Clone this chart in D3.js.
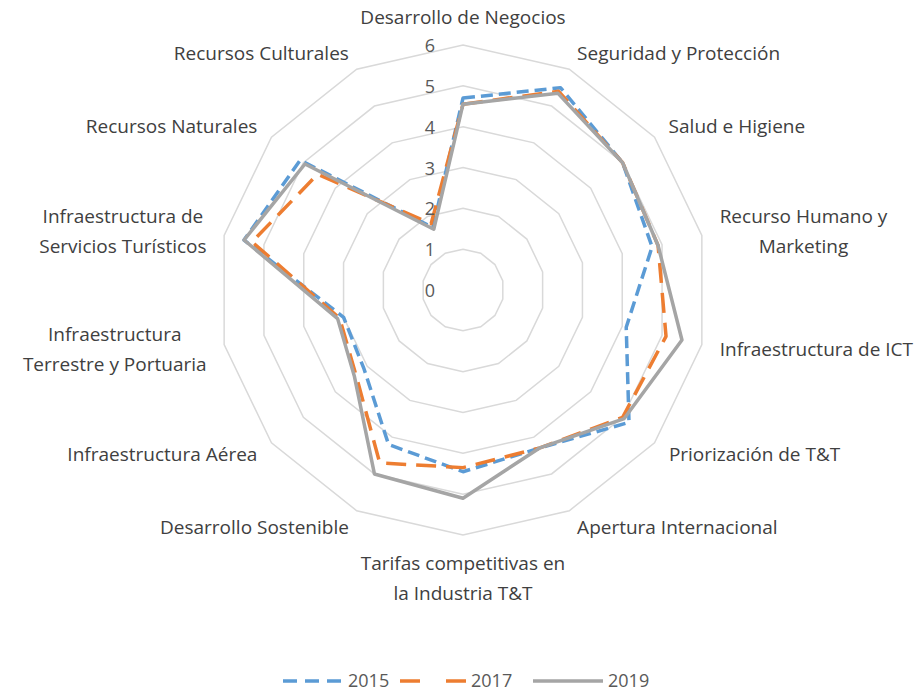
<!DOCTYPE html>
<html>
<head>
<meta charset="utf-8">
<script src="https://cdn.jsdelivr.net/npm/d3@7"></script>
<style>
  body { margin: 0; background: #fff; }
  text { font-family: "Open Sans", Lato, sans-serif; }
</style>
</head>
<body>
<svg id="chart" width="919" height="695"></svg>
<script>
// categories, clockwise from the top
const categories = [
  ['Desarrollo de Negocios'],
  ['Seguridad y Protección'],
  ['Salud e Higiene'],
  ['Recurso Humano y', 'Marketing'],
  ['Infraestructura de ICT'],
  ['Priorización de T&T'],
  ['Apertura Internacional'],
  ['Tarifas competitivas en', 'la Industria T&T'],
  ['Desarrollo Sostenible'],
  ['Infraestructura Aérea'],
  ['Infraestructura', 'Terrestre y Portuaria'],
  ['Infraestructura de', 'Servicios Turísticos'],
  ['Recursos Naturales'],
  ['Recursos Culturales']
];

const years = ['2015', '2017', '2019'];
const values2015 = [4.7, 5.5, 5.0, 4.75, 4.1, 5.2, 4.3, 4.45, 4.2, 3.1, 3.0, 5.5, 5.1, 1.7];
const values2017 = [4.55, 5.4, 5.0, 4.9, 5.1, 5.0, 4.3, 4.35, 4.7, 3.35, 3.1, 5.3, 4.55, 1.8];
const values2019 = [4.55, 5.35, 5.0, 4.9, 5.5, 5.05, 4.3, 5.1, 5.0, 3.4, 3.15, 5.5, 4.95, 1.65];
const ticks = [0, 1, 2, 3, 4, 5, 6];

const series = [
  { name: years[0], values: values2015, color: '#5b9bd5', dash: '12,6', legendDash: '14,8' },
  { name: years[1], values: values2017, color: '#ed7d31', dash: '20,10', legendDash: '20,26' },
  { name: years[2], values: values2019, color: '#a5a5a5', dash: null, legendDash: null }
];

const cx = 463, cy = 290, R = 245;
const svg = d3.select('#chart');
const g = svg.append('g').attr('transform', `translate(${cx},${cy})`);

const r = d3.scaleLinear().domain([0, 6]).range([0, R]);
const angle = d3.scaleLinear().domain([0, categories.length]).range([0, 2 * Math.PI]);

const radial = d3.lineRadial()
  .angle((d, i) => angle(i))
  .radius(d => r(d))
  .curve(d3.curveLinearClosed);

// grid rings
g.selectAll('.ring')
  .data(ticks.slice(1))
  .enter()
  .append('path')
  .attr('d', t => radial(categories.map(() => t)))
  .attr('fill', 'none')
  .attr('stroke', '#d9d9d9')
  .attr('stroke-width', 1.5);

// series
g.selectAll('.series')
  .data(series)
  .enter()
  .append('path')
  .attr('d', s => radial(s.values))
  .attr('fill', 'none')
  .attr('stroke', s => s.color)
  .attr('stroke-width', 3.5)
  .attr('stroke-dasharray', s => s.dash)
  .attr('stroke-linejoin', 'round');

// tick labels
g.selectAll('.tick')
  .data(ticks)
  .enter()
  .append('text')
  .attr('x', -33)
  .attr('y', t => -r(t) + 7)
  .attr('text-anchor', 'middle')
  .attr('font-size', 18)
  .attr('fill', '#595959')
  .text(t => t);

// category labels
const lineH = 30;
categories.forEach((lines, i) => {
  const a = angle(i);
  const lr = R + 18;
  const x = Math.sin(a) * lr;
  const y = -Math.cos(a) * lr;
  const t = g.append('text')
    .attr('font-size', 19)
    .attr('fill', '#404040');
  lines.forEach((line, j) => {
    t.append('tspan').attr('x', 0).attr('dy', j === 0 ? 0 : lineH).text(line);
  });
  const w = t.node().getBBox().width;
  const n = lines.length;
  let x0, y0;
  const s = Math.sin(a), c = Math.cos(a);
  if (Math.abs(s) < 0.01) {
    x0 = x;
    // top: block sits above point, bottom: block sits below
    y0 = c > 0 ? y - (n - 1) * lineH - 3 : y + 17;
  } else {
    x0 = s > 0 ? x + w / 2 : x - w / 2;
    y0 = y - (n - 1) * lineH / 2 + 7;
  }
  t.attr('text-anchor', 'middle')
    .attr('transform', `translate(${x0},${y0})`);
});

// legend
const legendX = [283, 400, 533];
const legendLen = [60, 66, 70];
const legend = svg.append('g').attr('transform', 'translate(0,681)');
series.forEach((s, i) => {
  legend.append('line')
    .attr('x1', legendX[i]).attr('x2', legendX[i] + legendLen[i])
    .attr('y1', 0).attr('y2', 0)
    .attr('stroke', s.color)
    .attr('stroke-width', 3.5)
    .attr('stroke-dasharray', s.legendDash);
  legend.append('text')
    .attr('x', legendX[i] + legendLen[i] + 5)
    .attr('y', 6)
    .attr('font-size', 18)
    .attr('fill', '#595959')
    .text(s.name);
});
</script>
</body>
</html>
